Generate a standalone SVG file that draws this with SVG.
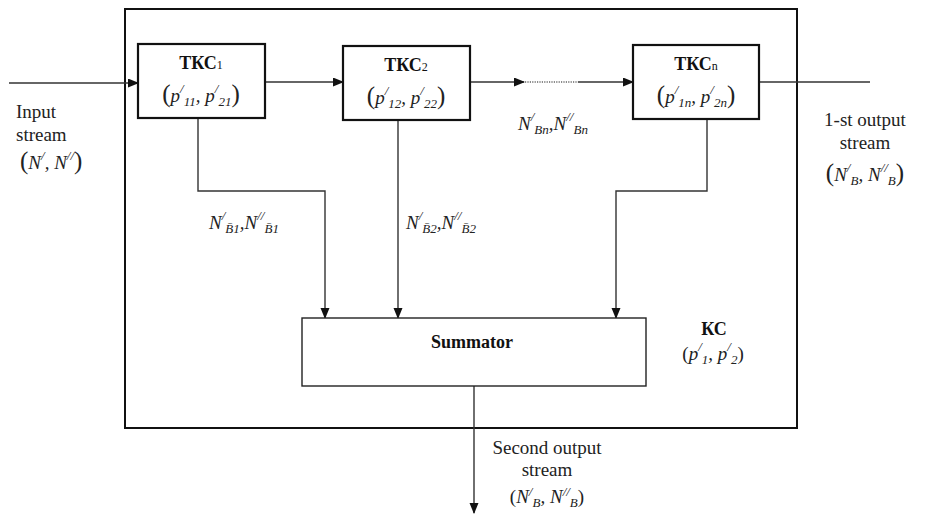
<svg xmlns="http://www.w3.org/2000/svg" width="931" height="518" viewBox="0 0 931 518">
<defs>
<marker id="arr" markerWidth="11" markerHeight="10" refX="10" refY="4.5" orient="auto" markerUnits="userSpaceOnUse">
<path d="M0,0 L11,4.5 L0,9 Z" fill="#111"/>
</marker>
<style>
.box{fill:#fff;stroke:#111;stroke-width:2.2}
.sum{fill:#fff;stroke:#222;stroke-width:1.4}
.ln{fill:none;stroke:#333;stroke-width:1.4}
.t{font-family:"Liberation Serif",serif;font-size:19px;fill:#222}
.b{font-family:"Liberation Serif",serif;font-size:18px;font-weight:bold;fill:#111}
.m{font-family:"Liberation Serif",serif;font-size:19px;font-style:italic;fill:#222}
.u{font-family:"Liberation Serif",serif;font-size:13px;font-style:italic;fill:#222}
.p{font-family:"Liberation Serif",serif;font-size:25px;fill:#222}
.q{font-family:"Liberation Serif",serif;font-size:19px;fill:#222}
.s{font-size:12px;font-weight:normal}
</style>
</defs>
<rect id="frame" x="125" y="9" width="672" height="419" fill="none" stroke="#111" stroke-width="2"/>
<g id="connectors">
<path class="ln" d="M9,83 H138" marker-end="url(#arr)"/>
<path class="ln" d="M265,82 H343" marker-end="url(#arr)"/>
<path class="ln" d="M470,82 H524" marker-end="url(#arr)"/>
<path fill="none" stroke="#666" stroke-width="1.3" stroke-dasharray="1.2,1.2" d="M525,82 H578"/>
<path class="ln" d="M578,82 H633" marker-end="url(#arr)"/>
<path class="ln" d="M759,82 H870"/>
<path class="ln" d="M198,118 V191 H325 V318" marker-end="url(#arr)"/>
<path class="ln" d="M398,120 V318" marker-end="url(#arr)"/>
<path class="ln" d="M707,119 V191 H616 V318" marker-end="url(#arr)"/>
<path class="ln" d="M474,386 V513" marker-end="url(#arr)"/>
</g>
<g id="tkc1">
<rect class="box" x="138" y="44" width="127" height="74"/>
<text class="b" x="201" y="69" text-anchor="middle">ТКС<tspan class="s">1</tspan></text>
<text x="201" y="102" text-anchor="middle"><tspan class="p">(</tspan><tspan class="m">p</tspan><tspan class="u" dy="-9">/</tspan><tspan class="u" dy="13">11</tspan><tspan class="m" dy="-4">, p</tspan><tspan class="u" dy="-9">/</tspan><tspan class="u" dy="13">21</tspan><tspan class="p" dy="-4">)</tspan></text>
</g>
<g id="tkc2">
<rect class="box" x="343" y="46" width="127" height="74"/>
<text class="b" x="406" y="71" text-anchor="middle">ТКС<tspan class="s">2</tspan></text>
<text x="406" y="104" text-anchor="middle"><tspan class="p">(</tspan><tspan class="m">p</tspan><tspan class="u" dy="-9">/</tspan><tspan class="u" dy="13">12</tspan><tspan class="m" dy="-4">, p</tspan><tspan class="u" dy="-9">/</tspan><tspan class="u" dy="13">22</tspan><tspan class="p" dy="-4">)</tspan></text>
</g>
<g id="tkcn">
<rect class="box" x="633" y="45" width="126" height="74"/>
<text class="b" x="696" y="70" text-anchor="middle">ТКС<tspan class="s">n</tspan></text>
<text x="696" y="103" text-anchor="middle"><tspan class="p">(</tspan><tspan class="m">p</tspan><tspan class="u" dy="-9">/</tspan><tspan class="u" dy="13">1n</tspan><tspan class="m" dy="-4">, p</tspan><tspan class="u" dy="-9">/</tspan><tspan class="u" dy="13">2n</tspan><tspan class="p" dy="-4">)</tspan></text>
</g>
<g id="summator">
<rect class="sum" x="302" y="318" width="344" height="68"/>
<text class="b" x="472" y="348" text-anchor="middle">Summator</text>
</g>
<g id="kc">
<text class="b" x="714" y="335" text-anchor="middle">КС</text>
<text x="713" y="360" text-anchor="middle"><tspan class="q">(</tspan><tspan class="m">p</tspan><tspan class="u" dy="-9">/</tspan><tspan class="u" dy="13">1</tspan><tspan class="m" dy="-4">, p</tspan><tspan class="u" dy="-9">/</tspan><tspan class="u" dy="13">2</tspan><tspan class="q" dy="-4">)</tspan></text>
</g>
<g id="labels">
<text class="t" x="16" y="118">Input</text>
<text class="t" x="16" y="141">stream</text>
<text x="20" y="169"><tspan class="p" font-size="23">(</tspan><tspan class="m">N</tspan><tspan class="u" dy="-9">/</tspan><tspan class="m" dy="9">, N</tspan><tspan class="u" dy="-9">//</tspan><tspan class="p" font-size="23" dy="9">)</tspan></text>
<text x="518" y="130"><tspan class="m">N</tspan><tspan class="u" dy="-9">/</tspan><tspan class="u" dy="13">Bn</tspan><tspan class="m" dy="-4">,N</tspan><tspan class="u" dy="-9">//</tspan><tspan class="u" dy="13">Bn</tspan></text>
<text x="209" y="229"><tspan class="m">N</tspan><tspan class="u" dy="-9">/</tspan><tspan class="u" dy="13">B̄1</tspan><tspan class="m" dy="-4">,N</tspan><tspan class="u" dy="-9">//</tspan><tspan class="u" dy="13">B̄1</tspan></text>
<text x="406" y="229"><tspan class="m">N</tspan><tspan class="u" dy="-9">/</tspan><tspan class="u" dy="13">B̄2</tspan><tspan class="m" dy="-4">,N</tspan><tspan class="u" dy="-9">//</tspan><tspan class="u" dy="13">B̄2</tspan></text>
<text class="t" x="865" y="126" text-anchor="middle">1-st output</text>
<text class="t" x="865" y="149" text-anchor="middle">stream</text>
<text x="865" y="181" text-anchor="middle"><tspan class="p">(</tspan><tspan class="m">N</tspan><tspan class="u" dy="-9">/</tspan><tspan class="u" dy="13">B</tspan><tspan class="m" dy="-4">, N</tspan><tspan class="u" dy="-9">//</tspan><tspan class="u" dy="13">B</tspan><tspan class="p" dy="-4">)</tspan></text>
<text class="t" x="547" y="454" text-anchor="middle">Second output</text>
<text class="t" x="547" y="476" text-anchor="middle">stream</text>
<text x="547" y="503" text-anchor="middle"><tspan class="q">(</tspan><tspan class="m">N</tspan><tspan class="u" dy="-7">/</tspan><tspan class="u" dy="11">B</tspan><tspan class="m" dy="-4">, N</tspan><tspan class="u" dy="-7">//</tspan><tspan class="u" dy="11">B</tspan><tspan class="q" dy="-4">)</tspan></text>
</g>
</svg>
